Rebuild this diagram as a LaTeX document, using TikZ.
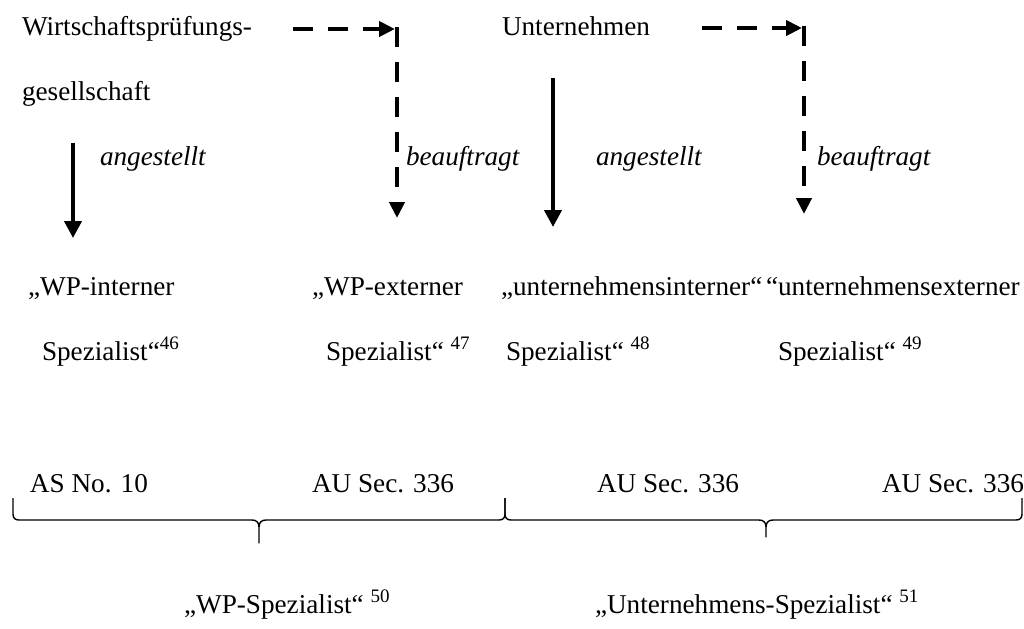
\documentclass[tikz,border=0pt]{standalone}
\usepackage{fontspec}
\setmainfont{Liberation Serif}
\usetikzlibrary{arrows.meta}

\begin{document}
\begin{tikzpicture}[x=0.5pt, y=-0.5pt, inner sep=0pt, outer sep=0pt,
    txt/.style={anchor=base west, font=\fontsize{13.6}{16}\selectfont},
    lbl/.style={anchor=base west, font=\fontsize{13.6}{16}\selectfont\itshape},
    solidarr/.style={line width=2pt, -{Triangle[length=8.5pt,width=8.5pt]}},
    dashline/.style={line width=2pt, dash pattern=on 10pt off 7.5pt},
    dasharr/.style={dashline, -{Triangle[length=8pt,width=7.5pt]}},
    grp/.style={line width=0.7pt, line join=round}]
  \useasboundingbox (0,0) rectangle (1024,628);
  % top row
  \node[txt] (wpg1) at (22,35) {Wirtschaftsprüfungs-};
  \node[txt] (wpg2) at (22,100) {gesellschaft};
  \node[txt] (unt) at (502,35) {Unternehmen};
  % relation labels
  \node[lbl] (ang1) at (100,165) {angestellt};
  \node[lbl] (bea1) at (406,165) {beauftragt};
  \node[lbl] (ang2) at (596,165) {angestellt};
  \node[lbl] (bea2) at (817,165) {beauftragt};
  % arrow ends
  \coordinate (a1s) at (73,143);   \coordinate (a1e) at (73,238);
  \coordinate (d1s) at (293,29);   \coordinate (d1e) at (395,29);
  \coordinate (v1s) at (397,27);   \coordinate (v1e) at (397,218);
  \coordinate (a2s) at (553,78);   \coordinate (a2e) at (553,227);
  \coordinate (d2s) at (702,28);   \coordinate (d2e) at (802,28);
  \coordinate (v2s) at (804,26);   \coordinate (v2e) at (804,214);
  \draw[solidarr] (a1s) -- (a1e);
  \draw[dasharr] (d1s) -- (d1e);
  \draw[dasharr] (v1s) -- (v1e);
  \draw[solidarr] (a2s) -- (a2e);
  \draw[dasharr] (d2s) -- (d2e);
  \draw[dasharr] (v2s) -- (v2e);
  % specialists
  \node[txt] (wpi1) at (28,295) {„WP-interner};
  \node[txt] (wpi2) at (42,360) {Spezialist“\textsuperscript{46}};
  \node[txt] (wpe1) at (312,295) {„WP-externer};
  \node[txt] (wpe2) at (326,360) {Spezialist“ \textsuperscript{47}};
  \node[txt] (uni1) at (501,295) {„unternehmensinterner“};
  \node[txt] (une1) at (766,295) {“unternehmensexterner};
  \node[txt] (uni2) at (506,360) {Spezialist“ \textsuperscript{48}};
  \node[txt] (une2) at (778,360) {Spezialist“ \textsuperscript{49}};
  % standards
  \node[txt] (as1) at (30,492) {AS No. 10};
  \node[txt] (au1) at (312,492) {AU Sec. 336};
  \node[txt] (au2) at (597,492) {AU Sec. 336};
  \node[txt] (au3) at (882,492) {AU Sec. 336};
  % braces
  \draw[grp] (13,498) -- (13,514) .. controls (13,518) and (15,520) .. (19,520)
    -- (252,520) .. controls (256,520) and (259,522) .. (259,527) -- (259,543)
    -- (259,527) .. controls (259,522) and (262,520) .. (266,520)
    -- (499,520) .. controls (503,520) and (505,518) .. (505,514) -- (505,498);
  \draw[grp] (505,498) -- (505,514) .. controls (505,518) and (507,520) .. (511,520)
    -- (759,520) .. controls (763,520) and (766,522) .. (766,527) -- (766,537)
    -- (766,527) .. controls (766,522) and (769,520) .. (773,520)
    -- (1016,520) .. controls (1020,520) and (1022,518) .. (1022,514) -- (1022,498);
  \node[txt] (wpsp) at (184,613) {„WP-Spezialist“ \textsuperscript{50}};
  \node[txt] (unsp) at (595,613) {„Unternehmens-Spezialist“ \textsuperscript{51}};
\end{tikzpicture}
\end{document}
